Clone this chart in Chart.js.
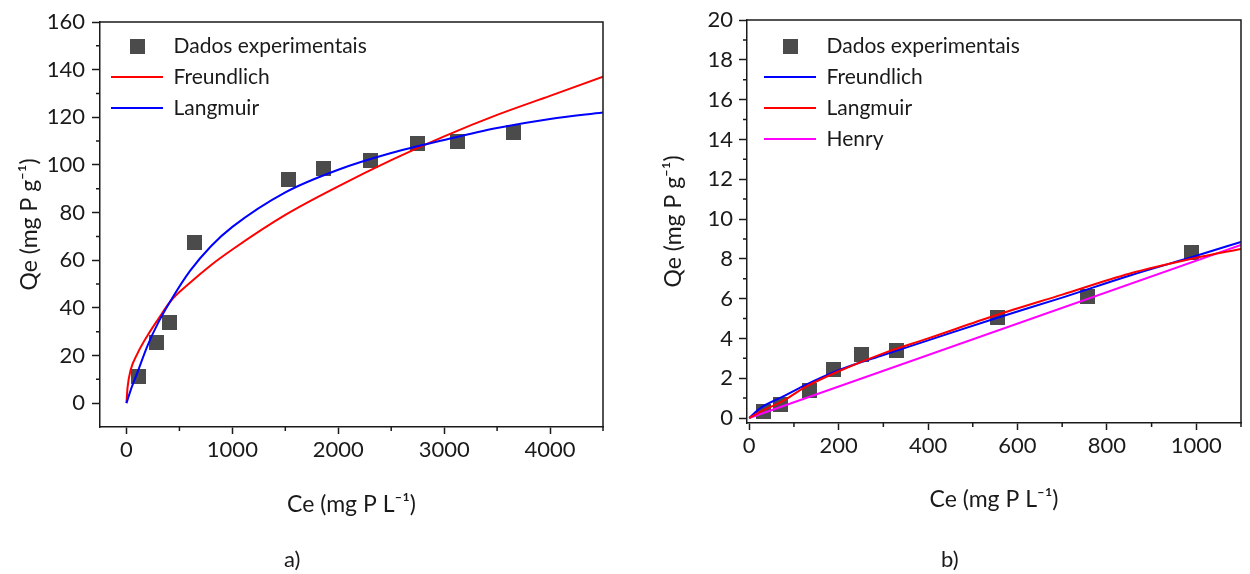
<!DOCTYPE html>
<html lang="pt">
<head>
<meta charset="utf-8">
<title>Isotermas de adsorção de P</title>
<script src="https://cdn.jsdelivr.net/npm/chart.js@4.4.1/dist/chart.umd.min.js"></script>
<style>
  body { margin: 0; background: #fff; width: 1250px; height: 574px; position: relative; overflow: hidden; }
  canvas { position: absolute; top: 0; }
  #chartA { left: 0; }
  #chartB { left: 625px; }
  .panel { position: absolute; top: 545px; font: 22px Lato, "Open Sans", sans-serif; color: #1a1a1a; }
</style>
</head>
<body>
<canvas id="chartA" width="625" height="574"></canvas>
<canvas id="chartB" width="625" height="574"></canvas>
<div class="panel" style="left:284px">a)</div>
<div class="panel" style="left:941px">b)</div>
<script>
// ---- a) ----
var ceA = [113, 283, 406, 642, 1528, 1858, 2302, 2745, 3123, 3651];
var qeA = [11.3, 25.6, 34, 67.6, 93.7, 98.3, 102, 109, 110, 113.8];
var fitXA = [0, 10, 40, 100, 200, 300, 420, 600, 800, 1000, 1500, 2000, 2500, 3000, 3500, 4000, 4500];
var freundA = [0, 6.5, 14, 20.5, 28.5, 35.3, 43, 50.5, 58, 64.5, 79, 91, 102, 112, 121, 129, 137];
var langA = [0, 1.4, 5.5, 12.5, 24.3, 33.8, 43.2, 55.5, 66, 74, 88.5, 98, 105, 110.5, 115.5, 119.3, 122];
var xTicksA = [0, 1000, 2000, 3000, 4000];
var yTicksA = [0, 20, 40, 60, 80, 100, 120, 140, 160];
var xMinorA = [500, 1500, 2500, 3500, 4500];
var yMinorA = [10, 30, 50, 70, 90, 110, 130, 150];

// ---- b) ----
var ceB = [33, 71, 135, 188, 252, 329, 556, 757, 989];
var qeB = [0.35, 0.7, 1.4, 2.46, 3.17, 3.37, 5.03, 6.13, 8.34];
var fitXB = [0, 25, 75, 125, 200, 300, 400, 550, 700, 850, 1000, 1100];
var freundB = [0, 0.5, 1.07, 1.65, 2.4, 3.17, 3.9, 5.0, 6.05, 7.15, 8.15, 8.85];
var langB = [0, 0.32, 0.85, 1.55, 2.35, 3.25, 4.0, 5.15, 6.2, 7.25, 8.05, 8.5];
var henryXB = [0, 1100];
var henryB = [0, 8.7];
var xTicksB = [0, 200, 400, 600, 800, 1000];
var yTicksB = [0, 2, 4, 6, 8, 10, 12, 14, 16, 18, 20];
var xMinorB = [100, 300, 500, 700, 900, 1100];
var yMinorB = [1, 3, 5, 7, 9, 11, 13, 15, 17, 19];

var FONT = 'Lato, "Open Sans", sans-serif';
var INK = '#1a1a1a';

// square marker used both in the plot and in the legend
function squareMarker(size, color) {
  var c = document.createElement('canvas');
  c.width = size; c.height = size;
  var g = c.getContext('2d');
  g.fillStyle = color;
  g.fillRect(0, 0, size, size);
  return c;
}
var marker = squareMarker(15, '#4b4b4b');

function pts(xs, ys) {
  return xs.map(function (x, i) { return { x: x, y: ys[i] }; });
}

function lineSet(label, xs, ys, color, order) {
  return {
    label: label, data: pts(xs, ys), showLine: true,
    borderColor: color, backgroundColor: color, borderWidth: 2,
    pointRadius: 0, pointHoverRadius: 0, pointStyle: 'line',
    cubicInterpolationMode: 'monotone', order: order
  };
}

function dotSet(xs, ys) {
  return {
    label: 'Dados experimentais', data: pts(xs, ys),
    pointStyle: marker, pointRadius: 8, order: 5
  };
}

// top/right frame, minor ticks, legend offset inside the plot
var framePlugin = {
  id: 'frame',
  afterLayout: function (chart, args, opts) {
    var lg = chart.legend, a = chart.chartArea;
    if (lg) {
      var w = lg.right - lg.left;
      lg.left = a.left + opts.legendDx;
      lg.right = lg.left + w;
      lg.top = a.top + opts.legendDy;
    }
  },
  afterDraw: function (chart, args, opts) {
    var ctx = chart.ctx, a = chart.chartArea;
    var sx = chart.scales.x, sy = chart.scales.y;
    ctx.save();
    ctx.strokeStyle = INK;
    ctx.lineWidth = 1.5;
    ctx.beginPath();
    ctx.moveTo(a.left, a.top);
    ctx.lineTo(a.right, a.top);
    ctx.lineTo(a.right, a.bottom);
    opts.minorX.forEach(function (v) {
      var px = sx.getPixelForValue(v);
      ctx.moveTo(px, a.bottom);
      ctx.lineTo(px, a.bottom + 4);
    });
    opts.minorY.forEach(function (v) {
      var py = sy.getPixelForValue(v);
      ctx.moveTo(a.left, py);
      ctx.lineTo(a.left - 4, py);
    });
    ctx.stroke();
    ctx.restore();
  }
};

function axis(o) {
  return {
    type: 'linear', min: o.min, max: o.max,
    afterBuildTicks: function (s) { s.ticks = o.ticks.map(function (v) { return { value: v }; }); },
    afterFit: o.fit,
    grid: { drawOnChartArea: false, drawTicks: true, tickLength: o.tickLength, tickWidth: 1.5, tickColor: INK },
    border: { color: INK, width: 1.5 },
    ticks: { color: INK, font: { family: FONT, size: 22 }, padding: o.tickPad,
             callback: function (v) { return String(v); } },
    title: { display: true, text: o.title, color: INK, font: { family: FONT, size: 23 }, padding: o.titlePad }
  };
}

function makeChart(id, o) {
  return new Chart(document.getElementById(id), {
    type: 'scatter',
    data: { datasets: o.datasets },
    plugins: [framePlugin],
    options: {
      responsive: false,
      animation: false,
      events: [],
      layout: { padding: o.pad },
      plugins: {
        legend: {
          position: 'chartArea', align: 'start',
          labels: {
            usePointStyle: true, pointStyleWidth: 52, padding: 10,
            color: INK, font: { family: FONT, size: 21 },
            sort: function (a, b) { return a.datasetIndex - b.datasetIndex; }
          }
        },
        tooltip: { enabled: false },
        frame: { minorX: o.minorX, minorY: o.minorY, legendDx: o.legendDx, legendDy: o.legendDy }
      },
      scales: {
        x: axis({ min: o.xMin, max: o.xMax, ticks: o.xTicks, tickLength: 7, tickPad: 3,
                  title: 'Ce (mg P L\u207B\u00B9)', titlePad: { top: 0, bottom: 0 },
                  fit: function (s) { s.height = o.xH; } }),
        y: axis({ min: o.yMin, max: o.yMax, ticks: o.yTicks, tickLength: 8, tickPad: o.yPad,
                  title: 'Qe (mg P g\u207B\u00B9)', titlePad: { top: o.yTitle, bottom: 0 },
                  fit: function (s) { s.width = o.yW; } })
      }
    }
  });
}

makeChart('chartA', {
  datasets: [
    dotSet(ceA, qeA),
    lineSet('Freundlich', fitXA, freundA, '#ff0000', 1),
    lineSet('Langmuir', fitXA, langA, '#0000ff', 0)
  ],
  pad: { left: 0, top: 22, right: 22, bottom: 56 },
  xMin: -250, xMax: 4500, yMin: -10, yMax: 160,
  xTicks: xTicksA, yTicks: yTicksA, minorX: xMinorA, minorY: yMinorA,
  xH: 91, yW: 100, yPad: 7, yTitle: 16, legendDx: 1, legendDy: 3.5
});

makeChart('chartB', {
  datasets: [
    dotSet(ceB, qeB),
    lineSet('Freundlich', fitXB, freundB, '#0000ff', 1),
    lineSet('Langmuir', fitXB, langB, '#ff0000', 0),
    lineSet('Henry', henryXB, henryB, '#ff00ff', 2)
  ],
  pad: { left: 0, top: 20, right: 2, bottom: 61 },
  xMin: -5, xMax: 1100, yMin: -0.25, yMax: 20,
  xTicks: xTicksB, yTicks: yTicksB, minorX: xMinorB, minorY: yMinorB,
  xH: 90, yW: 122, yPad: 6, yTitle: 35, legendDx: 7, legendDy: 5.5
});
</script>
</body>
</html>
